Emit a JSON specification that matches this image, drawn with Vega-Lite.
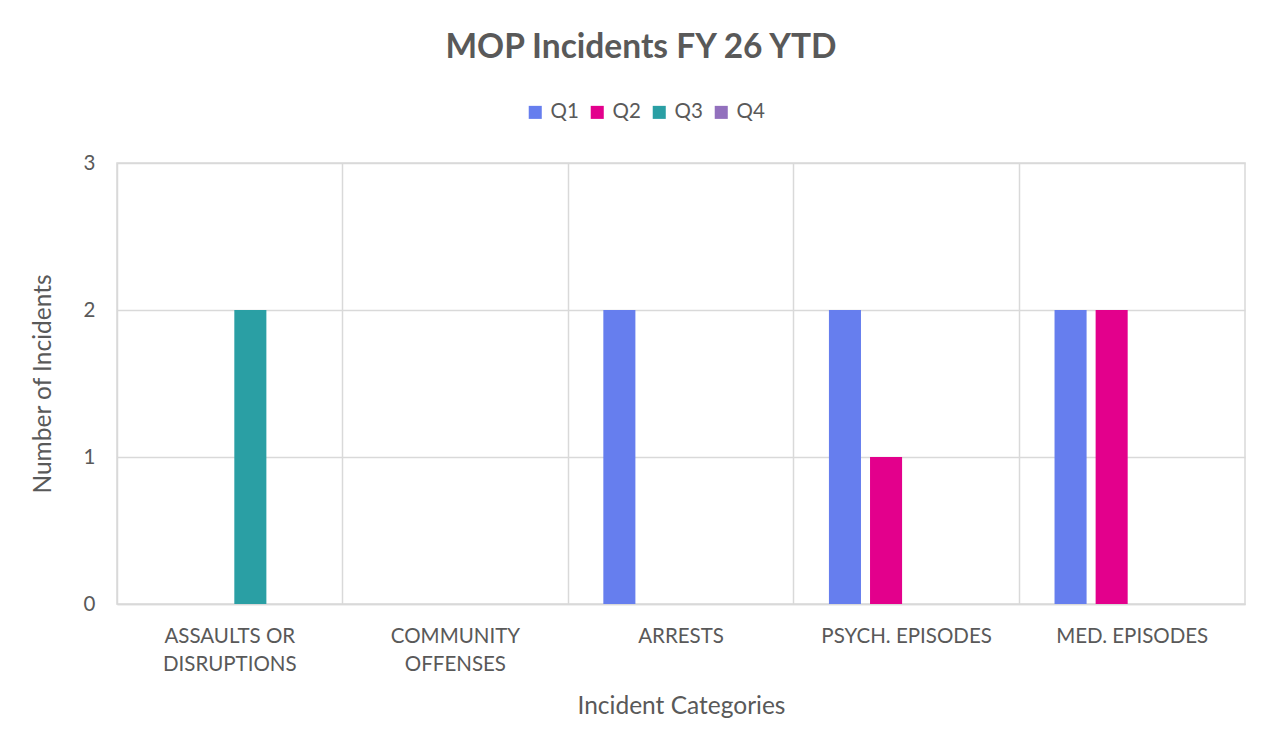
{
  "$schema": "https://vega.github.io/schema/vega-lite/v6.json",
  "width": 1128,
  "height": 441,
  "autosize": {"type": "none"},
  "padding": {"left": 117, "top": 163, "right": 29, "bottom": 144},
  "background": "white",
  "title": {
    "text": "MOP Incidents FY 26 YTD",
    "fontSize": 33.5,
    "fontWeight": "bold",
    "font": "Lato",
    "color": "#595959",
    "anchor": "middle",
    "dx": -40,
    "offset": 37
  },
  "data": {
    "values": [
      {"category": "ASSAULTS OR DISRUPTIONS", "quarter": "Q1", "count": 0},
      {"category": "ASSAULTS OR DISRUPTIONS", "quarter": "Q2", "count": 0},
      {"category": "ASSAULTS OR DISRUPTIONS", "quarter": "Q3", "count": 2},
      {"category": "ASSAULTS OR DISRUPTIONS", "quarter": "Q4", "count": 0},
      {"category": "COMMUNITY OFFENSES", "quarter": "Q1", "count": 0},
      {"category": "COMMUNITY OFFENSES", "quarter": "Q2", "count": 0},
      {"category": "COMMUNITY OFFENSES", "quarter": "Q3", "count": 0},
      {"category": "COMMUNITY OFFENSES", "quarter": "Q4", "count": 0},
      {"category": "ARRESTS", "quarter": "Q1", "count": 2},
      {"category": "ARRESTS", "quarter": "Q2", "count": 0},
      {"category": "ARRESTS", "quarter": "Q3", "count": 0},
      {"category": "ARRESTS", "quarter": "Q4", "count": 0},
      {"category": "PSYCH. EPISODES", "quarter": "Q1", "count": 2},
      {"category": "PSYCH. EPISODES", "quarter": "Q2", "count": 1},
      {"category": "PSYCH. EPISODES", "quarter": "Q3", "count": 0},
      {"category": "PSYCH. EPISODES", "quarter": "Q4", "count": 0},
      {"category": "MED. EPISODES", "quarter": "Q1", "count": 2},
      {"category": "MED. EPISODES", "quarter": "Q2", "count": 2},
      {"category": "MED. EPISODES", "quarter": "Q3", "count": 0},
      {"category": "MED. EPISODES", "quarter": "Q4", "count": 0}
    ]
  },
  "mark": {"type": "bar"},
  "encoding": {
    "x": {
      "field": "category",
      "type": "nominal",
      "sort": null,
      "scale": {"paddingInner": 0, "paddingOuter": 0},
      "axis": {
        "title": "Incident Categories",
        "titleFont": "Lato",
        "titleFontSize": 24.5,
        "titleFontWeight": "normal",
        "titleColor": "#595959",
        "titlePadding": 20,
        "labelFont": "Lato",
        "labelFontSize": 20.5,
        "labelColor": "#595959",
        "labelAngle": 0,
        "labelPadding": 22,
        "labelLineHeight": 28,
        "labelExpr": "datum.label == 'ASSAULTS OR DISRUPTIONS' ? ['ASSAULTS OR', 'DISRUPTIONS'] : datum.label == 'COMMUNITY OFFENSES' ? ['COMMUNITY', 'OFFENSES'] : datum.label",
        "ticks": false,
        "domain": true,
        "domainColor": "#d9d9d9",
        "domainWidth": 1.5,
        "grid": true,
        "gridColor": "#d9d9d9",
        "gridWidth": 1.5,
        "bandPosition": 0
      }
    },
    "xOffset": {
      "field": "quarter",
      "type": "nominal",
      "scale": {"paddingInner": 0.22, "paddingOuter": 0.855}
    },
    "y": {
      "field": "count",
      "type": "quantitative",
      "scale": {"domain": [0, 3]},
      "axis": {
        "title": "Number of Incidents",
        "titleFont": "Lato",
        "titleFontSize": 24.5,
        "titleFontWeight": "normal",
        "titleColor": "#595959",
        "titlePadding": 28,
        "labelFont": "Lato",
        "labelFontSize": 20.5,
        "labelColor": "#595959",
        "labelPadding": 22,
        "values": [0, 1, 2, 3],
        "format": "d",
        "labelOverlap": false,
        "ticks": false,
        "domain": false,
        "grid": true,
        "gridColor": "#d9d9d9",
        "gridWidth": 1.5
      }
    },
    "color": {
      "field": "quarter",
      "type": "nominal",
      "scale": {
        "domain": ["Q1", "Q2", "Q3", "Q4"],
        "range": ["#667EEE", "#E3008C", "#2A9FA4", "#9270BD"]
      },
      "legend": {
        "title": null,
        "orient": "none",
        "direction": "horizontal",
        "legendX": 408,
        "legendY": -61,
        "symbolType": "square",
        "symbolSize": 170,
        "symbolOpacity": 1,
        "labelFont": "Lato",
        "labelFontSize": 20.5,
        "labelColor": "#595959",
        "labelOffset": 5,
        "columnPadding": 8
      }
    }
  },
  "config": {
    "view": {"stroke": "#d9d9d9", "strokeWidth": 1.5}
  }
}
